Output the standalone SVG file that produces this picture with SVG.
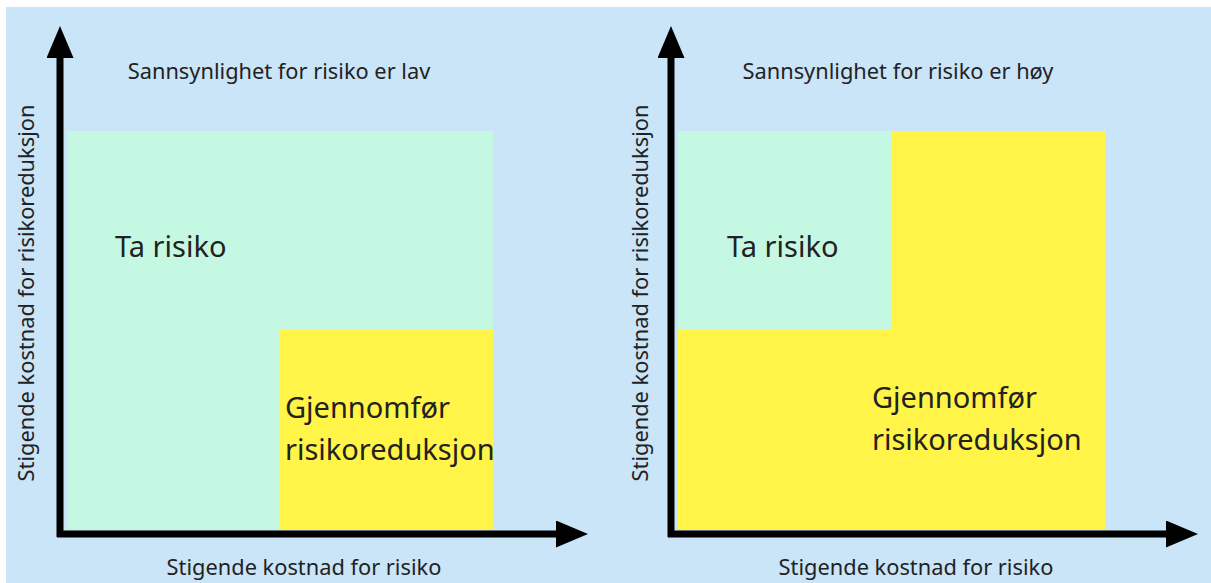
<svg xmlns="http://www.w3.org/2000/svg" width="1211" height="583" viewBox="0 0 1211 583">
<style>
.bg{fill:#CAE4F8}
.mint{fill:#C4F8E3}
.yel{fill:#FFF447}
.t{font-family:"Noto Sans","Open Sans",sans-serif;fill:#222}
.big{font-size:29px}
.sm{font-size:21.8px}
.axis{stroke:#000;stroke-width:7;fill:none;marker-end:url(#ah)}
</style>
<defs>
<marker id="ah" markerUnits="userSpaceOnUse" markerWidth="32" markerHeight="27" refX="0" refY="13.5" orient="auto" viewBox="0 0 32 27">
<path d="M0,0 L32,13.5 L0,27 Z" fill="#000"/>
</marker>
</defs>
<rect width="1211" height="583" fill="#fff"/>
<rect class="bg" x="6" y="7" width="1205" height="576"/>

<g id="left-ta-risiko">
<rect class="mint" x="67" y="131" width="213" height="398"/>
<rect class="mint" x="279" y="131" width="214" height="199"/>
<text class="t big" x="115" y="257">Ta risiko</text>
</g>
<g id="left-gjennomfor">
<rect class="yel" x="280" y="330" width="213" height="199"/>
<text class="t big" x="285" y="418">Gjennomfør</text>
<text class="t big" x="285" y="460">risikoreduksjon</text>
</g>
<g id="left-labels">
<text class="t sm" x="279" y="79" text-anchor="middle">Sannsynlighet for risiko er lav</text>
<text class="t sm" x="304" y="575" text-anchor="middle">Stigende kostnad for risiko</text>
<text class="t sm" transform="translate(34,293) rotate(-90)" text-anchor="middle">Stigende kostnad for risikoreduksjon</text>
</g>

<g id="right-ta-risiko">
<rect class="mint" x="678" y="131" width="213" height="199"/>
<text class="t big" x="727" y="257">Ta risiko</text>
</g>
<g id="right-gjennomfor">
<rect class="yel" x="891" y="131" width="214" height="398"/>
<rect class="yel" x="678" y="330" width="214" height="199"/>
<text class="t big" x="872" y="408">Gjennomfør</text>
<text class="t big" x="872" y="450">risikoreduksjon</text>
</g>
<g id="right-labels">
<text class="t sm" x="898" y="79" text-anchor="middle">Sannsynlighet for risiko er høy</text>
<text class="t sm" x="916" y="575" text-anchor="middle">Stigende kostnad for risiko</text>
<text class="t sm" transform="translate(648,293) rotate(-90)" text-anchor="middle">Stigende kostnad for risikoreduksjon</text>
</g>

<g id="connectors">
<path class="axis" d="M60,537 V58"/>
<path class="axis" d="M57,534 H556"/>
<path class="axis" d="M671,537 V58"/>
<path class="axis" d="M668,534 H1166"/>
</g>
</svg>
